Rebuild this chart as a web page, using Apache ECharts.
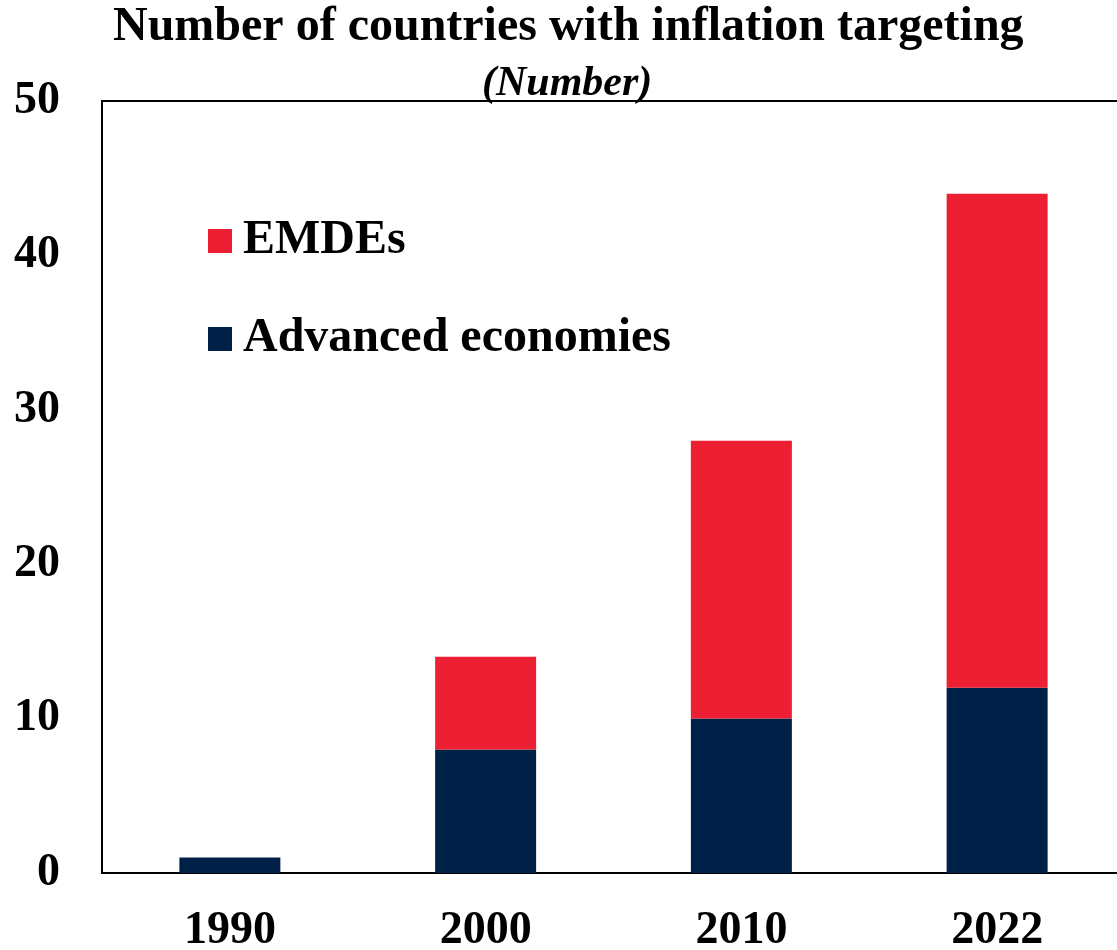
<!DOCTYPE html>
<html>
<head>
<meta charset="utf-8">
<script src="https://cdn.jsdelivr.net/npm/echarts@6/dist/echarts.min.js"></script>
<style>
  html, body { margin: 0; padding: 0; background: #fff; }
  #chart { width: 1117px; height: 950px; }
</style>
</head>
<body>
<div id="chart"></div>
<script>
// Inflation-targeting countries by year, split by country group
const years = ['1990', '2000', '2010', '2022'];
const advancedEconomies = [1, 8, 10, 12];
const emdes = [0, 6, 18, 32];

const serif = "'Liberation Serif', 'Times New Roman', serif";
const RED = '#EC1F33';
const NAVY = '#002147';

const chart = echarts.init(document.getElementById('chart'), null, { renderer: 'canvas' });

chart.setOption({
  backgroundColor: '#fff',
  animation: false,
  graphic: [
    {
      type: 'text', left: 568 - 455, top: 4,
      style: {
        text: 'Number of countries with inflation targeting',
        font: 'bold 48px ' + serif, fill: '#000'
      }
    },
    {
      type: 'text', left: 568 - 86, top: 63,
      style: {
        text: '(Number)',
        font: 'italic bold 42px ' + serif, fill: '#000'
      }
    }
  ],
  legend: {
    orient: 'vertical',
    left: 208,
    top: 217,
    padding: 0,
    itemWidth: 24,
    itemHeight: 24,
    itemGap: 50,
    icon: 'rect',
    data: ['EMDEs', 'Advanced economies'],
    textStyle: { fontFamily: serif, fontWeight: 'bold', fontSize: 48, color: '#000', padding: [0, 0, 0, 6] }
  },
  grid: {
    left: 102, top: 101, bottom: 77, width: 1023,
    containLabel: false,
    outerBoundsMode: 'none',
    show: true, borderColor: '#000', borderWidth: 2, backgroundColor: 'transparent'
  },
  xAxis: {
    type: 'category',
    data: years,
    axisLine: { lineStyle: { color: '#000', width: 2 } },
    axisTick: { show: false },
    axisLabel: { margin: 35, color: '#000', fontFamily: serif, fontWeight: 'bold', fontSize: 46 }
  },
  yAxis: {
    type: 'value',
    min: 0, max: 50, interval: 10,
    splitLine: { show: false },
    axisLine: { show: true, lineStyle: { color: '#000', width: 2 } },
    axisTick: { show: false },
    axisLabel: { margin: 42, color: '#000', fontFamily: serif, fontWeight: 'bold', fontSize: 46 }
  },
  series: [
    {
      name: 'Advanced economies', type: 'bar', stack: 'total',
      data: advancedEconomies, barWidth: 101,
      itemStyle: { color: NAVY }
    },
    {
      name: 'EMDEs', type: 'bar', stack: 'total',
      data: emdes, barWidth: 101,
      itemStyle: { color: RED }
    }
  ]
});
</script>
</body>
</html>
